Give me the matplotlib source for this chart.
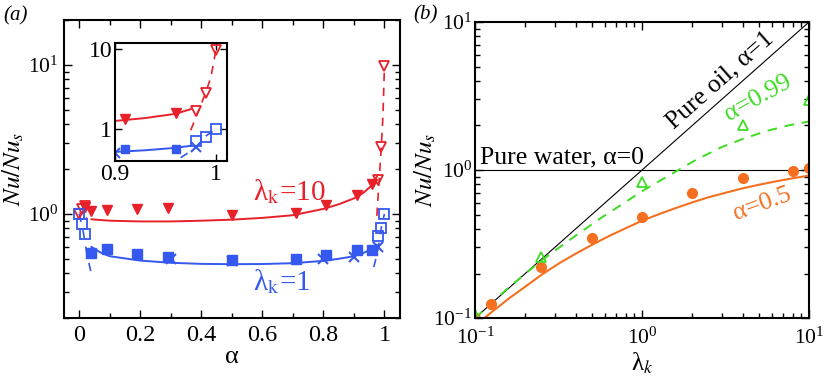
import matplotlib
matplotlib.use('Agg')
import matplotlib.pyplot as plt
import numpy as np
from matplotlib.ticker import MultipleLocator, NullFormatter, NullLocator, FixedLocator

plt.rcParams['font.family'] = ['Liberation Serif', 'DejaVu Serif']
plt.rcParams['mathtext.fontset'] = 'stix'

RED = '#e8202a'
BLUE = '#3558ee'
ORANGE = '#f47020'
GREEN = '#3ddc22'

# ---- panel (a): Nu/Nus vs alpha ----
alpha_fill_red = [0.02, 0.04, 0.09, 0.19, 0.29, 0.5, 0.71, 0.81, 0.91, 0.96]
nu_fill_red = [1.12, 1.04, 1.07, 1.08, 1.09, 0.98, 1.01, 1.15, 1.34, 1.58]
alpha_open = [0.0, 0.01, 0.02, 0.98, 0.99, 1.0]
nu_open_red = [1.0, 1.08, 1.13, 1.69, 2.8, 9.8]
nu_open_blue = [1.0, 0.86, 0.73, 0.71, 0.81, 1.0]
alpha_fill_blue = [0.04, 0.09, 0.19, 0.29, 0.5, 0.71, 0.81, 0.91, 0.96]
nu_fill_blue = [0.55, 0.58, 0.54, 0.51, 0.49, 0.50, 0.53, 0.57, 0.57]
alpha_x_blue = [0.3, 0.5, 0.8, 0.9, 0.98]
nu_x_blue = [0.50, 0.48, 0.50, 0.51, 0.60]

# model curves
alpha_red_fit = [0.04, 0.1, 0.2, 0.3, 0.4, 0.5, 0.6, 0.7, 0.8, 0.85, 0.9, 0.93, 0.96, 0.975]
nu_red_fit = [0.92, 0.9, 0.89, 0.89, 0.9, 0.915, 0.94, 0.98, 1.08, 1.16, 1.27, 1.38, 1.56, 1.78]
alpha_blue_fit = [0.04, 0.07, 0.1, 0.2, 0.3, 0.4, 0.5, 0.6, 0.7, 0.8, 0.85, 0.9, 0.93, 0.96, 0.975]
nu_blue_fit = [0.60, 0.55, 0.52, 0.486, 0.47, 0.462, 0.46, 0.461, 0.467, 0.484, 0.5, 0.52, 0.545, 0.585, 0.62]
alpha_red_dash1 = [0.975, 0.983, 0.99, 0.995, 1.0]
nu_red_dash1 = [0.97, 1.73, 2.9, 4.5, 9.8]
alpha_red_dash0 = [0.0, 0.02, 0.036]
nu_red_dash0 = [1.02, 0.96, 0.87]
alpha_blue_dash0 = [0.0, 0.014, 0.025, 0.039]
nu_blue_dash0 = [1.0, 0.74, 0.54, 0.40]
alpha_blue_dash1 = [0.965, 0.975, 0.982, 0.991, 1.0]
nu_blue_dash1 = [0.44, 0.53, 0.63, 0.84, 1.0]

# ---- panel (b): Nu/Nus vs lambda_k ----
lam_limits = [0.1, 10]
lam_orange = [0.1, 0.125, 0.25, 0.5, 1, 2, 4, 8, 10]
nu_orange = [0.1, 0.124, 0.222, 0.35, 0.48, 0.70, 0.89, 0.98, 1.03]
lam_green = [0.1, 0.25, 1, 4, 10]
nu_green = [0.105, 0.26, 0.83, 2.0, 2.97]
lam_orange_fit = [0.11, 0.13, 0.16, 0.2, 0.25, 0.32, 0.4, 0.5, 0.63, 0.8, 1,
                  1.3, 1.6, 2, 2.5, 3.2, 4, 5, 6.3, 8, 10]
nu_orange_fit = [0.097, 0.113, 0.136, 0.163, 0.196, 0.235, 0.272, 0.312, 0.357, 0.405, 0.455,
                 0.51, 0.555, 0.605, 0.655, 0.705, 0.752, 0.795, 0.838, 0.88, 0.918]
lam_green_fit = [0.1, 0.16, 0.25, 0.4, 0.56, 0.8, 1.0, 1.5, 2.1, 3, 4, 5.6, 7.5, 10]
nu_green_fit = [0.1, 0.162, 0.245, 0.36, 0.47, 0.61, 0.72, 0.94, 1.17, 1.43, 1.62, 1.84, 2.0, 2.13]


def style_ticks(ax, major=6, minor=3.5, size=17.5):
    ax.tick_params(which='both', direction='in', top=True, right=True, width=1.0)
    ax.tick_params(which='major', length=major, labelsize=size, pad=5)
    ax.tick_params(which='minor', length=minor)
    for s in ax.spines.values():
        s.set_linewidth(1.5)


fig = plt.figure(figsize=(8.31, 3.76), dpi=100)
axa = fig.add_axes([0.077, 0.154, 0.404, 0.793])
axb = fig.add_axes([0.5716, 0.154, 0.402, 0.7875])
axi = fig.add_axes([0.1384, 0.5718, 0.1348, 0.3138])


def draw_a(ax, ms=7.5):
    ax.plot(alpha_red_fit, nu_red_fit, '-', color=RED, lw=1.4)
    ax.plot(alpha_blue_fit, nu_blue_fit, '-', color=BLUE, lw=1.4)
    ax.plot(alpha_red_dash1, nu_red_dash1, '--', color=RED, lw=1.2, dashes=(5, 4))
    ax.plot(alpha_red_dash0, nu_red_dash0, '--', color=RED, lw=1.0, dashes=(2, 4))
    ax.plot(alpha_blue_dash0, nu_blue_dash0, '--', color=BLUE, lw=1.2, dashes=(5, 5))
    ax.plot(alpha_blue_dash1, nu_blue_dash1, '--', color=BLUE, lw=1.2, dashes=(5, 5))
    ax.plot(alpha_fill_red, nu_fill_red, 'v', color=RED, ms=ms, ls='none')
    ax.plot(alpha_open, nu_open_red, 'v', mfc='none', mec=RED, mew=1.3, ms=ms, ls='none')
    ax.plot(alpha_fill_blue, nu_fill_blue, 's', color=BLUE, ms=ms - 0.5, ls='none')
    ax.plot(alpha_x_blue, nu_x_blue, 'x', color=BLUE, ms=ms, mew=1.5, ls='none')
    ax.plot(alpha_open, nu_open_blue, 's', mfc='none', mec=BLUE, mew=1.3, ms=ms, ls='none')


draw_a(axa)
axa.set_yscale('log')
axa.set_xlim(-0.05, 1.05)
axa.set_ylim(0.2, 20)
axa.xaxis.set_minor_locator(MultipleLocator(0.1))
axa.set_xticks([0, 0.2, 0.4, 0.6, 0.8, 1.0], ['0', '0.2', '0.4', '0.6', '0.8', '1'])
axa.yaxis.set_minor_formatter(NullFormatter())
style_ticks(axa)
axa.tick_params(axis='y', labelsize=15.5, pad=4)
axa.set_xlabel('α', fontsize=19, labelpad=0)
axa.set_ylabel(r'$Nu/Nu_s$', fontsize=18, labelpad=1)
axa.text(0.57, 1.24, r'λ$_\mathrm{k}$=10', color=RED, fontsize=21)
axa.text(0.57, 0.31, r'λ$_\mathrm{k}$=1', color=BLUE, fontsize=21)

# inset
draw_a(axi, ms=6.5)
axi.set_yscale('log')
axi.set_xlim(0.9, 1.011)
axi.set_ylim(0.4, 12)
axi.xaxis.set_major_locator(FixedLocator([0.9, 1.0]))
axi.xaxis.set_minor_locator(NullLocator())
axi.set_xticklabels(['0.9', '1'])
axi.yaxis.set_major_locator(FixedLocator([1, 10]))
axi.yaxis.set_minor_locator(NullLocator())
axi.set_yticklabels(['1', '10'])
style_ticks(axi, major=5, size=17)
axi.tick_params(pad=2)

# panel (b)
axb.plot(lam_limits, lam_limits, '-', color='black', lw=0.8)
axb.plot(lam_limits, [1, 1], '-', color='black', lw=0.8)
axb.plot(lam_green_fit, nu_green_fit, '--', color=GREEN, lw=1.4, dashes=(5, 4))
axb.plot(lam_orange_fit, nu_orange_fit, '-', color=ORANGE, lw=1.5)
axb.plot(lam_orange, nu_orange, 'o', color=ORANGE, ms=7, ls='none')
axb.plot(lam_green, nu_green, '^', mfc='none', mec=GREEN, mew=1.3, ms=7.5, ls='none')
axb.set_xscale('log')
axb.set_yscale('log')
axb.set_xlim(0.1, 10)
axb.set_ylim(0.1, 10)
axb.xaxis.set_minor_formatter(NullFormatter())
axb.yaxis.set_minor_formatter(NullFormatter())
style_ticks(axb)
axb.tick_params(axis='y', labelsize=15.5, pad=2)
axb.tick_params(axis='x', labelsize=15.5, pad=7)
axb.set_xlabel(r'λ$_k$', fontsize=18, labelpad=1)
axb.set_ylabel(r'$Nu/Nu_s$', fontsize=18, labelpad=-3)
axb.text(0.107, 1.1, 'Pure water, α=0', fontsize=18.5)
axb.text(2.93, 4.06, 'Pure oil, α=1', fontsize=18.5, rotation=41.5,
         ha='center', va='center', rotation_mode='anchor')
axb.text(4.95, 3.05, 'α=0.99', fontsize=18.5, color=GREEN, rotation=29,
         ha='center', va='center', rotation_mode='anchor')
axb.text(5.23, 0.59, 'α=0.5', fontsize=18.5, color=ORANGE, rotation=20,
         ha='center', va='center', rotation_mode='anchor')

fig.text(0.004, 0.945, '(a)', fontsize=15, style='italic')
fig.text(0.497, 0.948, '(b)', fontsize=15, style='italic')

fig.savefig('out.png', dpi=100)
